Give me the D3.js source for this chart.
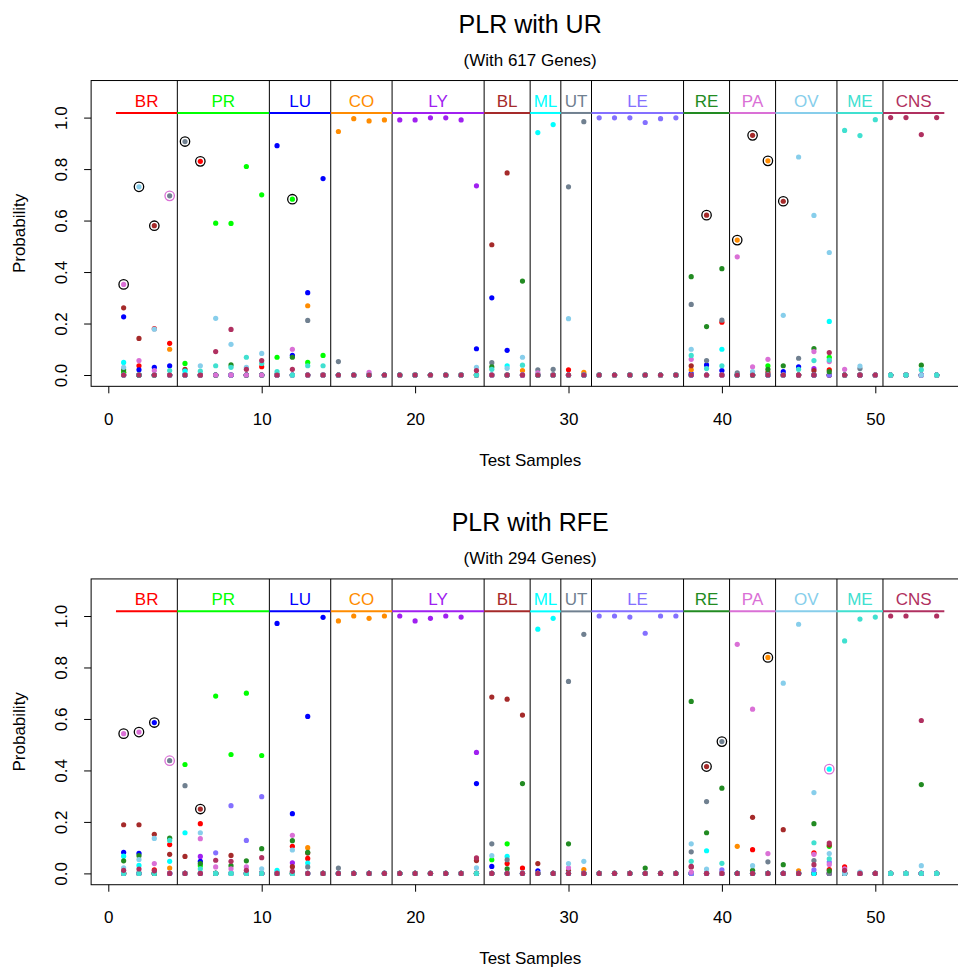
<!DOCTYPE html>
<html>
<head>
<meta charset="utf-8">
<script src="https://cdn.jsdelivr.net/npm/d3@7"></script>
<style>
  html, body { margin: 0; padding: 0; background: #fff; }
  svg { display: block; }
  text { font-family: "Liberation Sans", Arial, Helvetica, sans-serif; }
</style>
</head>
<body>
<script>
// ---------------- DATA ----------------
const classes = ["BR","PR","LU","CO","LY","BL","ML","UT","LE","RE","PA","OV","ME","CNS"];
const classColors = ["#FF0000","#00FF00","#0000FF","#FF8C00","#A020F0","#A52A2A","#00FFFF","#708090","#8470FF","#228B22","#DA70D6","#87CEEB","#40E0D0","#B03060"];
const classSizes = [4,6,4,4,6,3,2,2,6,3,3,4,3,4];
const xTicks = [0,10,20,30,40,50];
const yTicks = [0,0.2,0.4,0.6,0.8,1.0];

// Panel 1: PLR with UR (617 genes) - probability of each class for test samples 1..54
const urBR = [.01,.036,.18,.123,0,.83,0,0,0,.032, 0,0,0,0,0,0,0,0,0,0, 0,0,0,0,0,0,0,0,0,.02, 0,0,0,0,0,0,0,0,0,.205, 0,0,0,0,0,0,.02,0,0,0, 0,0,0,0];
const urPR = [.01,0,0,0,.045,0,.59,.589,.81,.70, .069,.683,.049,.076,0,0,0,0,0,0, 0,0,0,0,0,0,0,0,0,0, 0,0,0,0,0,0,0,0,0,0, 0,0,.036,0,0,0,.069,0,0,0, 0,0,0,0];
const urLU = [.226,.02,.03,.036,0,0,0,0,0,0, .891,.076,.32,.763,0,0,0,0,0,0, 0,0,0,.102,.30,.096,0,0,0,0, 0,0,0,0,0,0,0,.005,.039,.017, 0,0,0,.013,.032,0,0,0,0,0, 0,0,0,0];
const urCO = [0,0,0,.10,0,0,0,0,0,0, 0,0,.269,0,.946,.996,.987,.991,0,0, 0,0,0,0,0,0,.017,0,0,0, .01,0,0,0,0,0,0,.02,0,0, .524,0,.832,0,0,0,0,0,0,0, 0,0,0,0];
const urLY = [0,0,0,0,0,0,0,0,0,0, 0,0,0,0,0,0,0,0,.991,.991, .999,.999,.991,.735,0,0,0,0,0,0, 0,0,0,0,0,0,0,0,0,0, 0,0,0,0,0,.025,0,0,0,0, 0,0,0,0];
const urBL = [.261,.142,.58,0,.022,0,0,0,0,0, 0,0,0,0,0,0,0,0,0,0, 0,0,0,0,.506,.785,0,0,0,0, 0,0,0,0,0,0,0,.036,.621,0, 0,.931,.01,.675,0,.017,0,0,0,0, 0,0,0,0];
const urML = [.049,0,0,0,.015,0,0,0,0,0, 0,0,0,0,0,0,0,0,0,0, 0,0,0,0,0,.036,0,.942,.973,0, 0,0,0,0,0,0,0,0,0,.10, 0,0,0,0,0,0,.208,0,0,0, 0,0,0,0];
const urUT = [0,0,0,.696,.907,0,0,0,0,0, 0,0,.212,0,.052,0,0,0,0,0, 0,0,0,0,.048,0,0,.02,.022,.731, .984,0,0,0,0,0,0,.274,.056,.213, .008,0,0,0,.065,0,0,0,.025,0, 0,0,0,0];
const urLE = [0,0,0,0,0,0,0,0,0,0, 0,0,0,0,0,0,0,0,0,0, 0,0,0,0,0,0,0,0,0,0, 0,.999,.999,.999,.981,.996,.999,0,0,0, 0,0,0,0,0,0,0,0,0,0, 0,0,0,0];
const urRE = [.02,0,0,0,0,0,0,.039,0,0, 0,.069,0,0,0,0,0,0,0,0, 0,0,0,0,.032,0,.365,0,0,0, 0,0,0,0,0,0,0,.382,.188,.413, 0,0,.022,.036,0,.103,.013,0,0,0, 0,0,.038,0];
const urPA = [.352,.056,.017,0,0,0,0,0,0,0, 0,.10,0,0,0,0,.01,0,0,0, 0,0,0,0,0,0,0,.008,0,0, 0,0,0,0,0,0,0,.061,0,0, .459,.032,.061,0,0,.091,.052,.022,0,0, 0,0,0,0];
const urOV = [.03,.731,.178,0,0,.036,.22,.119,.03,.084, 0,0,0,0,0,0,0,0,0,0, 0,0,0,.03,0,.026,.069,0,0,.219, 0,0,0,0,0,0,0,.10,0,0, 0,.013,0,.232,.847,.62,.476,0,.035,0, 0,0,0,0];
const urME = [0,0,0,.017,0,.015,.036,.03,.069,.045, .013,0,.036,.036,0,0,0,0,0,0, 0,0,0,0,.022,0,.038,0,0,0, 0,0,0,0,0,0,0,.076,.025,.036, 0,0,0,0,.022,.056,.058,.95,.93,.992, 0,0,.02,0];
const urCNS = [0,0,0,0,0,0,.091,.177,.022,.056, 0,.022,0,0,0,0,0,0,0,0, 0,0,0,.017,0,0,0,0,0,0, 0,0,0,0,0,0,0,0,0,0, 0,0,0,0,0,0,.087,0,0,0, 1.0,1.0,.934,1.0];
const urRingSamples = [1,2,3,4,5,6,12,39,41,42,43,44];
const urRingClasses = ["PA","OV","BL","UT","UT","BR","PR","BL","CO","BL","CO","BL"];
const urRingColors = ["black","black","black","orchid","black","black","black","black","black","black","black","black"];

// Panel 2: PLR with RFE (294 genes)
const rfBR = [0,0,.014,.112,0,.193,0,0,0,0, 0,.105,.058,0,0,0,0,0,0,0, 0,0,0,0,0,.038,.021,0,0,0, 0,0,0,0,0,0,0,0,0,0, 0,.092,0,0,0,.08,.015,.025,0,0, 0,0,0,0];
const rfPR = [0,0,0,0,.423,.03,.689,.462,.70,.458, 0,0,0,0,0,0,0,0,0,0, 0,0,0,0,.053,.115,0,0,0,0, 0,0,0,0,0,0,0,0,0,0, 0,0,0,0,0,0,.105,0,0,0, 0,0,0,0];
const rfLU = [.082,.078,.586,0,0,.047,0,0,0,0, .971,.232,.61,.995,0,0,0,0,0,0, 0,0,0,.349,.027,0,0,.01,0,0, 0,0,0,0,0,0,0,0,0,0, 0,0,0,0,0,0,0,0,0,0, 0,0,0,0];
const rfCO = [0,0,0,.021,0,0,0,0,0,0, 0,0,.10,0,.981,1.0,.991,1.0,0,0, 0,0,0,0,0,0,0,0,0,0, .015,0,0,0,0,0,0,0,0,0, .105,0,.839,0,.01,0,0,0,0,0, 0,0,0,0];
const rfLY = [0,0,0,0,0,.066,0,0,0,0, 0,.041,0,0,0,0,0,0,1.0,.981, .991,1.0,.996,.47,0,0,0,0,0,0, 0,0,0,0,0,0,0,0,0,0, 0,0,0,0,0,0,0,0,0,0, 0,0,0,0];
const rfBL = [.189,.189,.152,.074,.066,.25,0,.07,0,0, 0,.026,.079,0,0,0,0,0,0,0, 0,0,0,.05,.685,.677,.615,.038,0,.01, 0,0,0,0,0,0,0,.025,.415,0, 0,.218,0,.17,0,0,.11,0,0,0, 0,0,0,0];
const rfML = [.067,.031,0,.047,.158,0,0,0,0,0, .012,0,.04,0,0,0,0,0,0,0, 0,0,0,0,0,.066,0,.949,.991,0, 0,0,0,0,0,0,0,0,.088,0, 0,0,0,0,0,0,.405,0,0,0, 0,0,0,0];
const rfUT = [0,0,0,.438,.341,0,0,0,0,0, 0,0,.025,0,.021,0,0,0,0,0, 0,0,0,0,.115,.053,0,0,0,.746, .929,0,0,0,0,0,0,.084,.279,.512, 0,0,.045,0,0,.05,0,0,0,0, 0,0,0,0];
const rfLE = [0,0,0,0,0,0,.08,.263,.128,.298, 0,0,0,0,0,0,0,0,0,0, 0,0,0,0,0,0,0,0,0,0, 0,1.0,1.0,.996,.933,1.0,1.0,0,0,.014, 0,0,0,0,0,.014,.044,0,0,0, 0,0,0,0];
const rfRE = [.049,.069,0,.137,0,.038,0,.03,.049,.096, 0,.127,.082,0,0,0,0,0,0,0, 0,0,0,0,0,.018,.349,0,0,.115, 0,0,0,0,.021,0,0,.668,.158,.331, 0,.012,0,.034,0,.193,.01,0,0,0, 0,0,.345,0];
const rfPA = [.543,.549,.038,0,0,.135,.025,.018,.025,0, 0,.148,0,0,0,0,0,0,0,0, 0,0,0,0,0,0,0,0,0,.022, 0,0,0,0,0,0,0,.005,0,0, .89,.638,.077,0,0,.074,.035,.018,0,0, 0,0,0,0];
const rfOV = [.022,.054,.136,0,0,.158,0,0,0,.018, 0,.091,0,0,0,0,0,0,0,0, 0,0,0,.022,.069,0,0,0,0,.038, .047,0,0,0,0,0,0,.115,.017,0, 0,.03,0,.739,.968,.314,.077,0,.005,0, 0,0,.03,0];
const rfME = [0,0,0,.128,0,.018,0,0,0,0, 0,0,0,0,0,0,0,0,0,0, 0,0,0,0,0,0,0,0,0,0, 0,0,0,0,0,0,0,.047,0,.039, 0,0,0,0,0,.119,.057,.903,.988,.996, 0,0,0,0];
const rfCNS = [.012,.017,.01,0,0,0,.051,.047,.012,.061, 0,.008,0,0,0,0,0,0,0,0, 0,0,0,.06,0,0,0,0,0,0, 0,0,0,0,0,0,0,.027,0,0, 0,0,0,0,0,.034,.118,.012,0,0, 1.0,1.0,.594,1.0];
const rfRingSamples = [1,2,3,4,6,39,40,43,47];
const rfRingClasses = ["PA","PA","LU","UT","BL","BL","UT","CO","ML"];
const rfRingColors = ["black","black","black","orchid","black","black","black","black","orchid"];

// ---------------- CHART ----------------
const W = 958, H = 968;
const svg = d3.select("body").append("svg").attr("width", W).attr("height", H);
svg.append("rect").attr("width", W).attr("height", H).attr("fill", "#fff");

const x = d3.scaleLinear().domain([0, 50]).range([108.3, 875.3]);
const xMin = -1.12, xMax = 56.12, yMin = -0.044, yMax = 1.144;
const unitH = 257.4;

const panels = [
  { y0: 375.0, title: "PLR with UR", sub: "(With 617 Genes)",
    series: [urBR,urPR,urLU,urCO,urLY,urBL,urML,urUT,urLE,urRE,urPA,urOV,urME,urCNS],
    rs: urRingSamples, rc: urRingClasses, rcol: urRingColors },
  { y0: 873.4, title: "PLR with RFE", sub: "(With 294 Genes)",
    series: [rfBR,rfPR,rfLU,rfCO,rfLY,rfBL,rfML,rfUT,rfLE,rfRE,rfPA,rfOV,rfME,rfCNS],
    rs: rfRingSamples, rc: rfRingClasses, rcol: rfRingColors }
];

panels.forEach(p => p.series.forEach((s, i) => {
  if (s.length !== 54) throw new Error("bad length " + p.title + " " + classes[i] + " " + s.length);
}));

// class boundaries
const bounds = [0.5];
classSizes.forEach(n => bounds.push(bounds[bounds.length - 1] + n));

panels.forEach((p, pi) => {
  const off = pi * 498.4;
  const y = d3.scaleLinear().domain([0, 1]).range([p.y0, p.y0 - unitH]);
  const g = svg.append("g");
  const left = x(xMin), right = x(xMax), top = y(yMax), bottom = y(yMin);
  const cx = (left + right) / 2;

  // titles
  g.append("text").attr("x", cx).attr("y", 32.7 + off).attr("text-anchor", "middle")
    .attr("font-size", 25).text(p.title);
  g.append("text").attr("x", cx).attr("y", 65.7 + off).attr("text-anchor", "middle")
    .attr("font-size", 17).text(p.sub);

  // vertical separators
  g.selectAll("line.sep").data(bounds.slice(1, -1)).enter().append("line")
    .attr("x1", d => x(d)).attr("x2", d => x(d))
    .attr("y1", top).attr("y2", bottom)
    .attr("stroke", "#000").attr("stroke-width", 1);

  // class segments and labels
  classes.forEach((c, i) => {
    g.append("line")
      .attr("x1", x(bounds[i])).attr("x2", x(bounds[i + 1]))
      .attr("y1", y(1.018)).attr("y2", y(1.018))
      .attr("stroke", classColors[i]).attr("stroke-width", 2);
    g.append("text")
      .attr("x", x((bounds[i] + bounds[i + 1]) / 2)).attr("y", y(1.041))
      .attr("text-anchor", "middle").attr("font-size", 17)
      .attr("fill", classColors[i]).text(c);
  });

  // dots
  p.series.forEach((vals, ci) => {
    g.append("g").selectAll("circle").data(vals).enter().append("circle")
      .attr("cx", (d, j) => x(j + 1)).attr("cy", d => y(d))
      .attr("r", 2.6).attr("fill", classColors[ci]);
  });

  // rings for misclassified samples
  p.rs.forEach((s, k) => {
    const ci = classes.indexOf(p.rc[k]);
    const v = p.series[ci][s - 1];
    g.append("circle").attr("cx", x(s)).attr("cy", y(v)).attr("r", 4.7)
      .attr("fill", "none").attr("stroke", p.rcol[k]).attr("stroke-width", 1.3);
  });

  // box
  g.append("rect").attr("x", left).attr("y", top)
    .attr("width", right - left).attr("height", bottom - top)
    .attr("fill", "none").attr("stroke", "#000").attr("stroke-width", 1);

  // x axis
  const gx = g.append("g").attr("transform", `translate(0,${bottom})`)
    .call(d3.axisBottom(x).tickValues(xTicks).tickSize(7).tickFormat(d3.format("d")));
  gx.select(".domain").remove();
  gx.selectAll("line").attr("stroke", "#000");
  gx.selectAll("text").attr("font-size", 17).attr("fill", "#000")
    .attr("y", 38.7).attr("dy", null)
    .style("font-family", '"Liberation Sans", Arial, sans-serif');

  // y axis
  const gy = g.append("g").attr("transform", `translate(${left},0)`)
    .call(d3.axisLeft(y).tickValues(yTicks).tickSize(7).tickFormat(d3.format(".1f")));
  gy.select(".domain").remove();
  gy.selectAll("line").attr("stroke", "#000");
  gy.selectAll("text").attr("font-size", 17).attr("fill", "#000")
    .attr("x", null).attr("dy", null).attr("text-anchor", "middle")
    .attr("transform", `translate(${67 - left},0) rotate(-90)`)
    .style("font-family", '"Liberation Sans", Arial, sans-serif');

  // axis titles
  g.append("text").attr("x", cx).attr("y", 466 + off).attr("text-anchor", "middle")
    .attr("font-size", 17).text("Test Samples");
  g.append("text").attr("transform", `translate(24.5,${(top + bottom) / 2}) rotate(-90)`)
    .attr("text-anchor", "middle").attr("font-size", 17).text("Probability");
});
</script>
</body>
</html>
